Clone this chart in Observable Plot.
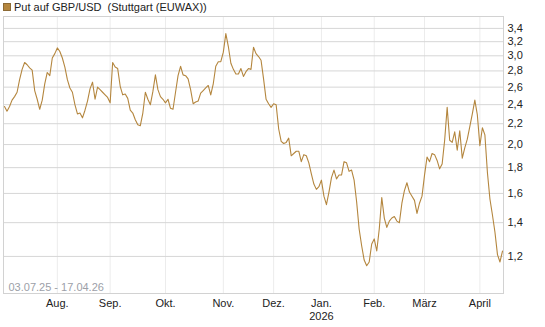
<!DOCTYPE html>
<html><head><meta charset="utf-8">
<script src="https://cdn.jsdelivr.net/npm/d3@7"></script>
<script src="https://cdn.jsdelivr.net/npm/@observablehq/plot@0.6"></script>
<style>
body{margin:0;background:#fff;font-family:"Liberation Sans",Arial,sans-serif;}
#wrap{position:relative;width:545px;height:327px;overflow:hidden;}
#legend{position:absolute;left:0;top:0;height:14px;line-height:14px;font-size:11px;color:#222;white-space:pre;}
#legend .sw{position:absolute;left:3px;top:3px;width:6px;height:6px;background:#b4863e;border:1px solid #8c6a35;}
#legend .tx{position:absolute;left:14px;top:0;}
#chart{position:absolute;left:0;top:14px;}
#chart svg{display:block;}
</style></head><body>
<div id="wrap"><div id="legend"><span class="sw"></span><span class="tx"></span></div><div id="chart"></div></div>
<script>
const seriesName = "Put auf GBP/USD  (Stuttgart (EUWAX))";
const dateRange = "03.07.25 - 17.04.26";
const values = [
2.38,2.33,2.38,2.45,2.49,2.54,2.69,2.82,2.91,2.88,
2.84,2.81,2.56,2.46,2.35,2.45,2.64,2.78,2.74,2.97,
3.03,3.11,3.06,2.97,2.85,2.69,2.59,2.54,2.40,2.30,
2.31,2.26,2.34,2.44,2.58,2.66,2.46,2.60,2.57,2.54,
2.51,2.48,2.42,2.91,2.85,2.83,2.61,2.51,2.52,2.47,
2.34,2.31,2.24,2.19,2.18,2.31,2.54,2.46,2.40,2.55,
2.75,2.57,2.49,2.46,2.42,2.46,2.36,2.35,2.54,2.74,
2.86,2.75,2.74,2.70,2.57,2.41,2.43,2.44,2.53,2.56,
2.59,2.62,2.51,2.64,2.86,2.92,2.92,3.05,3.32,3.13,
2.90,2.82,2.76,2.76,2.83,2.73,2.79,2.83,2.82,3.12,
3.03,2.99,2.94,2.70,2.46,2.41,2.37,2.41,2.40,2.15,
2.03,2.01,2.02,2.06,1.90,1.92,1.94,1.94,1.85,1.91,
1.90,1.84,1.75,1.67,1.63,1.65,1.70,1.58,1.52,1.61,
1.72,1.78,1.71,1.74,1.74,1.85,1.84,1.77,1.78,1.70,
1.54,1.36,1.26,1.18,1.15,1.17,1.27,1.30,1.23,1.36,
1.57,1.43,1.37,1.41,1.43,1.44,1.41,1.40,1.53,1.62,
1.68,1.61,1.58,1.55,1.46,1.53,1.58,1.74,1.89,1.85,
1.92,1.91,1.86,1.79,1.83,2.04,2.37,2.04,2.02,2.12,
1.95,2.13,1.88,1.97,2.05,2.17,2.30,2.45,2.29,1.99,
2.16,2.09,1.76,1.56,1.45,1.34,1.21,1.17,1.23
];
const monthLabels = ["Aug.","Sep.","Okt.","Nov.","Dez.","Jan.\n2026","Feb.","März","April"];
const monthStarts = [21,42,64,87,107,126,147,167,189];
const yTicks = [1.2,1.4,1.6,1.8,2.0,2.2,2.4,2.6,2.8,3.0,3.2,3.4];

document.querySelector("#legend .tx").textContent = seriesName;

const data = values.map((v, i) => ({i, v}));
const labelAt = new Map(monthStarts.map((d, k) => [d, monthLabels[k]]));

const chart = Plot.plot({
  width: 545,
  height: 313,
  marginTop: 2,
  marginBottom: 34,
  marginLeft: 3,
  marginRight: 42,
  style: {fontFamily: "'Liberation Sans', Arial, sans-serif", fontSize: "11px", color: "#222", background: "#fff", overflow: "visible"},
  x: {domain: [0, values.length - 1], insetLeft: 1, insetRight: 1},
  y: {type: "log", domain: [1.013, 3.59]},
  marks: [
    Plot.gridX(monthStarts, {stroke: "#ececec", strokeOpacity: 1}),
    Plot.gridY(yTicks, {stroke: "#d6d6d6", strokeOpacity: 1}),
    Plot.frame({stroke: "#d2d2d2"}),
    Plot.text([dateRange], {frameAnchor: "bottom-left", textAnchor: "start", lineAnchor: "bottom", dx: 5, dy: -2.5, fill: "#9ca0a8", fontSize: 11}),
    Plot.line(data, {x: "i", y: "v", stroke: "#b4863e", strokeWidth: 1.1}),
    Plot.axisY(yTicks, {anchor: "right", tickSize: 0, tickPadding: 4, tickFormat: d => d.toFixed(1).replace(".", ","), label: null, fill: "#222"}),
    Plot.axisX(monthStarts, {anchor: "bottom", tickSize: 0, tickPadding: 4, tickFormat: d => labelAt.get(d), label: null, lineHeight: 1.18, fill: "#222"})
  ]
});
document.getElementById("chart").appendChild(chart);
</script>
</body></html>
